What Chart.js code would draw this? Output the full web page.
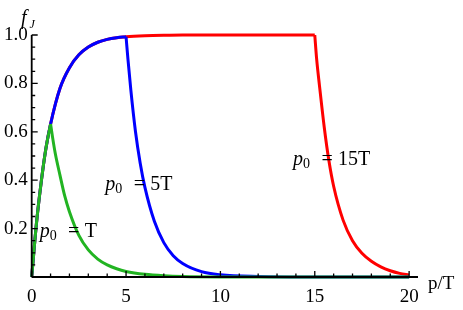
<!DOCTYPE html>
<html>
<head>
<meta charset="utf-8">
<script src="https://cdn.jsdelivr.net/npm/chart.js@4"></script>
<style>
  html, body { margin: 0; padding: 0; background: #fff; }
  #wrap { width: 463px; height: 310px; }
</style>
</head>
<body>
<div id="wrap"><canvas id="c" width="463" height="310"></canvas></div>
<script>
// ── data ──
const X_TICKS = [0, 5, 10, 15, 20];
const Y_TICKS = [0.2, 0.4, 0.6, 0.8, 1.0];

// common rising part before p0
const RISE_P = [0, 0.25, 0.5, 0.75, 1, 1.5, 2, 2.5, 3, 3.5, 4, 4.5, 5, 6, 7, 8, 10, 15];
const RISE_F = [0, 0.22, 0.39, 0.53, 0.632, 0.78, 0.865, 0.918, 0.95, 0.97, 0.982, 0.989, 0.993, 0.997, 0.999, 1, 1, 1];

// decaying parts after p0
const GREEN_P = [1, 1.1, 1.25, 1.5, 1.75, 2, 2.5, 3, 3.5, 4, 4.5, 5, 6, 7, 8, 10, 20];
const GREEN_F = [0.632, 0.58, 0.51, 0.42, 0.335, 0.27, 0.172, 0.112, 0.074, 0.05, 0.034, 0.023, 0.011, 0.005, 0.002, 0.0005, 0];

const BLUE_P = [5, 5.1, 5.25, 5.5, 5.75, 6, 6.5, 7, 7.5, 8, 9, 10, 12, 15, 20];
const BLUE_F = [0.993, 0.9, 0.775, 0.6, 0.47, 0.37, 0.23, 0.142, 0.088, 0.056, 0.022, 0.009, 0.002, 0, 0];

const RED_P = [15, 15.1, 15.25, 15.5, 15.75, 16, 16.5, 17, 17.5, 18, 18.5, 19, 19.5, 20];
const RED_F = [1, 0.9, 0.79, 0.62, 0.48, 0.375, 0.235, 0.15, 0.098, 0.065, 0.042, 0.026, 0.015, 0.008];

const P0 = [1, 5, 15];
const CURVE_LABELS = ['p0 = T', 'p0 = 5T', 'p0 = 15T'];

// ── styling ──
const SERIF = "'Liberation Serif', 'DejaVu Serif', serif";
const GREEN = '#22b422';
const BLUE = '#0000ff';
const RED = '#ff0000';
const COLORS = [GREEN, BLUE, RED];

// label anchors in data units (left edge, baseline)
const LABEL_POS = [[0.42, 0.165], [3.9, 0.36], [13.85, 0.462]];

const pts = (xs, ys) => xs.map((x, i) => ({ x, y: ys[i] }));

function lineSet(data, color, order) {
  return {
    data,
    borderColor: color,
    backgroundColor: color,
    borderWidth: 3,
    pointRadius: 0,
    fill: false,
    cubicInterpolationMode: 'monotone',
    clip: false,
    order
  };
}

const rise = pts(RISE_P, RISE_F);
const decays = [pts(GREEN_P, GREEN_F), pts(BLUE_P, BLUE_F), pts(RED_P, RED_F)];

const datasets = [];
P0.forEach((p0, i) => {
  datasets.push(lineSet(rise.filter(d => d.x <= p0), COLORS[i], i + 1));
  datasets.push(lineSet(decays[i], COLORS[i], i + 1));
});

// Mathematica-like frame: axis lines with inward ticks, plus text labels
const framePlugin = {
  id: 'frame',
  afterDatasetsDraw(chart) {
    const { ctx, chartArea, scales: { x, y } } = chart;
    const x0 = x.getPixelForValue(0);
    const y0 = y.getPixelForValue(0);
    ctx.save();
    ctx.strokeStyle = '#000';
    ctx.lineWidth = 1.8;
    ctx.beginPath();
    ctx.moveTo(x0, y0);
    ctx.lineTo(x0, y.getPixelForValue(1));
    ctx.moveTo(x0, y0);
    ctx.lineTo(chartArea.right, y0);
    ctx.stroke();

    ctx.lineWidth = 1.3;
    ctx.beginPath();
    for (let v = 0; v <= 20; v++) {
      const px = x.getPixelForValue(v);
      const len = v % 5 === 0 ? 6 : 3.5;
      ctx.moveTo(px, y0);
      ctx.lineTo(px, y0 - len);
    }
    for (let k = 0; k <= 20; k++) {
      const py = y.getPixelForValue(k * 0.05);
      const len = k % 4 === 0 ? 6 : 3.5;
      ctx.moveTo(x0, py);
      ctx.lineTo(x0 + len, py);
    }
    ctx.stroke();

    ctx.fillStyle = '#000';
    ctx.textBaseline = 'alphabetic';
    ctx.textAlign = 'left';

    // curve labels: italic p, subscript 0, "=", value
    CURVE_LABELS.forEach((txt, i) => {
      const lx = x.getPixelForValue(LABEL_POS[i][0]);
      const ly = y.getPixelForValue(LABEL_POS[i][1]);
      const rest = txt.split('= ')[1];
      ctx.font = `italic 20px ${SERIF}`;
      ctx.fillText('p', lx, ly);
      ctx.font = `14px ${SERIF}`;
      ctx.fillText('0', lx + 10, ly + 3);
      ctx.font = `20px ${SERIF}`;
      ctx.textAlign = 'center';
      ctx.fillText('=', lx + 34, ly);
      ctx.textAlign = 'left';
      ctx.fillText(rest, lx + 45, ly);
    });

    // axis titles
    ctx.font = `italic 20px ${SERIF}`;
    ctx.fillText('f', 21, 24);
    ctx.font = `italic 12px ${SERIF}`;
    ctx.fillText('J', 29.5, 28);
    ctx.font = `19px ${SERIF}`;
    ctx.fillText('p/T', 428, 289);
    ctx.restore();
  }
};

new Chart(document.getElementById('c').getContext('2d'), {
  type: 'line',
  data: { datasets },
  options: {
    responsive: false,
    animation: false,
    events: [],
    layout: { padding: { left: 0, right: 45, top: 35, bottom: 0 } },
    plugins: { legend: { display: false }, tooltip: { enabled: false } },
    scales: {
      x: {
        type: 'linear',
        min: 0,
        max: 20.47,
        grid: { display: false, drawTicks: false },
        border: { display: false },
        afterBuildTicks: s => { s.ticks = X_TICKS.map(v => ({ value: v })); },
        afterFit: s => { s.height = 33; },
        ticks: {
          color: '#000',
          font: { family: SERIF, size: 19 },
          padding: 9,
          maxRotation: 0,
          callback: v => String(v)
        }
      },
      y: {
        type: 'linear',
        min: 0,
        max: 1,
        grid: { display: false, drawTicks: false },
        border: { display: false },
        afterBuildTicks: s => { s.ticks = Y_TICKS.map(v => ({ value: v })); },
        afterFit: s => { s.width = 31.7; },
        ticks: {
          color: '#000',
          font: { family: SERIF, size: 19 },
          padding: 4,
          callback: v => v.toFixed(1)
        }
      }
    }
  },
  plugins: [framePlugin]
});
</script>
</body>
</html>
